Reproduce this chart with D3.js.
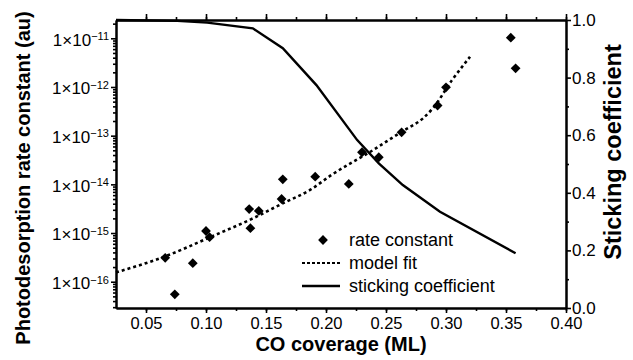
<!DOCTYPE html>
<html>
<head>
<meta charset="utf-8">
<script src="https://cdn.jsdelivr.net/npm/d3@7"></script>
<style>
  body { margin: 0; background: #fff; }
  text { font-family: "Liberation Sans", Arial, sans-serif; fill: #000; }
</style>
</head>
<body>
<svg id="chart" width="633" height="360"></svg>
<script>
// measured rate constants
var coverage = [0.066, 0.074, 0.089, 0.100, 0.103, 0.136, 0.137, 0.144, 0.163, 0.164,
                0.191, 0.219, 0.230, 0.244, 0.263, 0.293, 0.300, 0.354, 0.358];
var rateConst = [3.1e-16, 5.5e-17, 2.4e-16, 1.1e-15, 8.2e-16, 3.1e-15, 1.26e-15, 2.85e-15, 5.0e-15, 1.27e-14,
                 1.44e-14, 1.02e-14, 4.56e-14, 3.6e-14, 1.17e-13, 4.17e-13, 9.86e-13, 1.03e-11, 2.42e-12];

// model fit (exponent of 10)
var fitCoverage = [0.025, 0.067, 0.103, 0.139, 0.164, 0.187, 0.205, 0.237, 0.263, 0.281, 0.289, 0.305, 0.320];
var fitExp = [-15.81, -15.47, -15.09, -14.70, -14.39, -14.11, -13.80, -13.33, -12.92, -12.64, -12.44, -11.86, -11.38];

// sticking coefficient
var stickCoverage = [0.025, 0.076, 0.101, 0.139, 0.164, 0.192, 0.226, 0.244, 0.264, 0.295, 0.358];
var sticking = [1.0, 0.997, 0.991, 0.971, 0.902, 0.774, 0.583, 0.502, 0.427, 0.334, 0.190];

var xTicks = [0.05, 0.10, 0.15, 0.20, 0.25, 0.30, 0.35, 0.40];
var yDecades = [-16, -15, -14, -13, -12, -11];
var stickTicks = [0.0, 0.2, 0.4, 0.6, 0.8, 1.0];
var legendLabels = ["rate constant", "model fit", "sticking coefficient"];

var plotL = 116, plotR = 566, plotT = 20, plotB = 308;

var svg = d3.select("#chart");

var x = d3.scaleLinear().domain([0.025, 0.40]).range([plotL, plotR]);
var y = d3.scaleLog().domain([Math.pow(10, -16.54), Math.pow(10, -10.624)]).range([plotB, plotT]);
var y2 = d3.scaleLinear().domain([0, 1]).range([plotB, plotT]);

function styleAxis(g){
  g.select(".domain").attr("stroke", "#000").attr("stroke-width", 2);
  g.selectAll(".tick line").attr("stroke", "#000").attr("stroke-width", 1.6);
}

// minor x ticks
var xMinor = d3.range(0.025, 0.401, 0.025).filter(function(d){ return d > 0.026; });

svg.append("g").attr("transform", "translate(0," + plotB + ")")
  .call(d3.axisBottom(x).tickValues(xMinor).tickSize(3).tickFormat("").tickSizeOuter(0))
  .call(styleAxis);
svg.append("g").attr("transform", "translate(0," + plotT + ")")
  .call(d3.axisTop(x).tickValues(xMinor).tickSize(3).tickFormat("").tickSizeOuter(0))
  .call(styleAxis);
svg.append("g").attr("transform", "translate(0," + plotT + ")")
  .call(d3.axisTop(x).tickValues(xTicks).tickSize(6).tickFormat("").tickSizeOuter(0))
  .call(styleAxis);

var xAxis = svg.append("g").attr("transform", "translate(0," + plotB + ")")
  .call(d3.axisBottom(x).tickValues(xTicks).tickSize(5).tickSizeOuter(0).tickFormat(d3.format(".2f")))
  .call(styleAxis);
xAxis.selectAll("text").attr("font-size", 16.5).attr("y", 7).attr("dy", "0.85em")
  .style("font-family", '"Liberation Sans", Arial, sans-serif');

// left log axis, minor ticks
var yMinor = [];
for (var e = -17; e <= -11; e++) {
  for (var m = 2; m <= 9; m++) {
    var v = m * Math.pow(10, e);
    if (v > y.domain()[0] && v < y.domain()[1]) yMinor.push(v);
  }
}
svg.append("g").attr("transform", "translate(" + plotL + ",0)")
  .call(d3.axisLeft(y).tickValues(yMinor).tickSize(3).tickFormat("").tickSizeOuter(0))
  .call(styleAxis);

var yAxis = svg.append("g").attr("transform", "translate(" + plotL + ",0)")
  .call(d3.axisLeft(y).tickValues(yDecades.map(function(d){ return Math.pow(10, d); }))
        .tickSize(5).tickSizeOuter(0).tickFormat(""))
  .call(styleAxis);

yAxis.selectAll(".tick").each(function(d){
  var ex = Math.round(Math.log10(d));
  var t = d3.select(this).append("text")
    .attr("x", -7).attr("y", 0).attr("dy", "0.4em")
    .attr("text-anchor", "end")
    .attr("font-size", 17);
  t.append("tspan").text("1\u00d710");
  t.append("tspan").attr("dy", "-0.5em").attr("font-size", 11).text("\u2212" + Math.abs(ex));
});

// right axis
svg.append("g").attr("transform", "translate(" + plotR + ",0)")
  .call(d3.axisRight(y2).tickValues([0.1, 0.3, 0.5, 0.7, 0.9]).tickSize(3).tickFormat("").tickSizeOuter(0))
  .call(styleAxis);
var rAxis = svg.append("g").attr("transform", "translate(" + plotR + ",0)")
  .call(d3.axisRight(y2).tickValues(stickTicks).tickSize(5).tickSizeOuter(0).tickFormat(d3.format(".1f")))
  .call(styleAxis);
rAxis.selectAll("text").attr("font-size", 17).attr("x", 6)
  .style("font-family", '"Liberation Sans", Arial, sans-serif');

// axis titles
svg.append("text").attr("x", 341).attr("y", 351).attr("text-anchor", "middle")
  .attr("font-size", 20).attr("font-weight", "bold").text("CO coverage (ML)");
svg.append("text").attr("transform", "translate(30,178) rotate(-90)").attr("text-anchor", "middle")
  .attr("font-size", 20).attr("font-weight", "bold").text("Photodesorption rate constant (au)");
svg.append("text").attr("transform", "translate(621,152) rotate(-90)").attr("text-anchor", "middle")
  .attr("font-size", 23.5).attr("font-weight", "bold").text("Sticking coefficient");

// sticking coefficient line
var stickLine = d3.line()
  .x(function(d, i){ return x(stickCoverage[i]); })
  .y(function(d){ return y2(d); });
svg.append("path").datum(sticking)
  .attr("d", stickLine)
  .attr("fill", "none").attr("stroke", "#000").attr("stroke-width", 2.4);

// model fit
var fitLine = d3.line()
  .curve(d3.curveMonotoneX)
  .x(function(d, i){ return x(fitCoverage[i]); })
  .y(function(d){ return y(Math.pow(10, d)); });
svg.append("path").datum(fitExp)
  .attr("d", fitLine)
  .attr("fill", "none").attr("stroke", "#000").attr("stroke-width", 2.6)
  .attr("stroke-dasharray", "3,3");

// data points
var diamond = d3.symbol().type(d3.symbolSquare).size(48);
svg.selectAll("path.pt").data(rateConst).enter().append("path")
  .attr("class", "pt")
  .attr("d", diamond)
  .attr("transform", function(d, i){ return "translate(" + x(coverage[i]) + "," + y(d) + ") rotate(45)"; })
  .attr("fill", "#000");

// legend
var leg = svg.append("g");
var rows = [240, 263, 286];
leg.append("path").attr("d", diamond).attr("fill", "#000")
  .attr("transform", "translate(323," + rows[0] + ") rotate(45)");
leg.append("line").attr("x1", 302).attr("x2", 340).attr("y1", rows[1]).attr("y2", rows[1])
  .attr("stroke", "#000").attr("stroke-width", 2).attr("stroke-dasharray", "3,2");
leg.append("line").attr("x1", 302).attr("x2", 340).attr("y1", rows[2]).attr("y2", rows[2])
  .attr("stroke", "#000").attr("stroke-width", 2.4);
leg.selectAll("text.lg").data(legendLabels).enter().append("text")
  .attr("x", 349).attr("y", function(d, i){ return rows[i]; }).attr("dy", "0.35em")
  .attr("font-size", 18).text(function(d){ return d; });
</script>
</body>
</html>
